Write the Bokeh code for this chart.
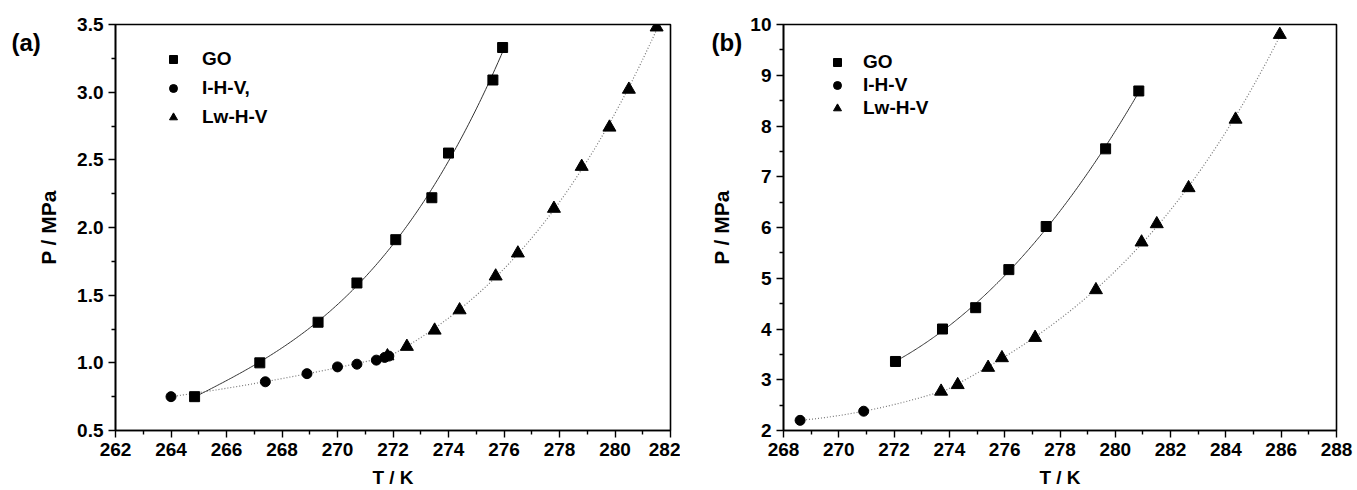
import numpy as np
from bokeh.plotting import figure
from bokeh.layouts import row
from bokeh.models import FixedTicker, Legend, LegendItem, Range1d, PrintfTickFormatter
from bokeh.embed import file_html
from bokeh.resources import INLINE

# ---------------- data: panel (a) ----------------
a_go_T = [264.85, 267.2, 269.3, 270.7, 272.1, 273.4, 274.0, 275.6, 275.95]
a_go_P = [0.75, 1.00, 1.30, 1.59, 1.91, 2.22, 2.55, 3.09, 3.33]
a_ihv_T = [264.0, 267.4, 268.9, 270.0, 270.7, 271.4, 271.7, 271.85]
a_ihv_P = [0.75, 0.86, 0.92, 0.97, 0.99, 1.02, 1.04, 1.05]
a_lw_T = [271.8, 272.5, 273.5, 274.4, 275.7, 276.5, 277.8, 278.8, 279.8, 280.5, 281.5]
a_lw_P = [1.05, 1.12, 1.24, 1.39, 1.64, 1.81, 2.14, 2.45, 2.74, 3.02, 3.48]

# ---------------- data: panel (b) ----------------
b_go_T = [272.05, 273.75, 274.95, 276.15, 277.5, 279.65, 280.85]
b_go_P = [3.36, 4.00, 4.42, 5.17, 6.02, 7.55, 8.69]
b_ihv_T = [268.6, 270.9]
b_ihv_P = [2.20, 2.38]
b_lw_T = [273.7, 274.3, 275.4, 275.9, 277.1, 279.3, 280.95, 281.5, 282.65, 284.35, 285.95]
b_lw_P = [2.77, 2.90, 3.24, 3.43, 3.83, 4.77, 5.71, 6.07, 6.78, 8.13, 9.80]

labels_a = ["GO", "I-H-V,", "Lw-H-V"]
labels_b = ["GO", "I-H-V", "Lw-H-V"]

FONT = "Liberation Sans"


def fit_curve(T, P, deg, n=200):
    c = np.polyfit(T, P, deg)
    t = np.linspace(min(T), max(T), n)
    return t, np.polyval(c, t)


def make_panel(tag, go, ihv, lw, labels, xr, yr, xmaj, xmin, ymaj, ymin, yfmt,
               width, bl, br, leg_x, leg_y, leg_sp, leg_so, tag_off):
    p = figure(width=width, height=490, output_backend="svg", toolbar_location=None,
               x_range=Range1d(*xr), y_range=Range1d(*yr),
               min_border_left=bl, min_border_right=br, min_border_top=24, min_border_bottom=60)
    p.grid.visible = False
    p.outline_line_color = "black"
    p.outline_line_width = 1.6
    p.background_fill_color = "white"
    p.border_fill_color = "white"

    # fitted curves
    t, v = fit_curve(go[0], go[1], 3)
    p.line(t, v, line_color="#333333", line_width=1)
    it = list(ihv[0]) + [lw[0][0]]
    ip = list(ihv[1]) + [lw[1][0]]
    t, v = fit_curve(it, ip, 2)
    p.line(t, v, line_color="#777777", line_width=1.2, line_dash="1 2")
    t, v = fit_curve(lw[0], lw[1], 3)
    p.line(t, v, line_color="#777777", line_width=1.2, line_dash="1 2")

    r1 = p.scatter(go[0], go[1], marker="square", size=10, color="black")
    r2 = p.scatter(ihv[0], ihv[1], marker="circle", size=10, color="black")
    r3 = p.scatter(lw[0], lw[1], marker="triangle", size=13, color="black")

    for ax in (p.xaxis[0], p.yaxis[0]):
        ax.axis_line_width = 1.6
        ax.major_tick_line_width = 1.4
        ax.minor_tick_line_width = 1.4
        ax.major_tick_in = 0
        ax.major_tick_out = 7
        ax.minor_tick_in = 0
        ax.minor_tick_out = 4
        ax.major_label_text_font = FONT
        ax.major_label_text_font_style = "bold"
        ax.major_label_text_font_size = "19px"
        ax.major_label_text_color = "black"
        ax.axis_label_text_font = FONT
        ax.axis_label_text_font_style = "bold"
        ax.axis_label_text_color = "black"
    p.xaxis[0].ticker = FixedTicker(ticks=xmaj, minor_ticks=xmin)
    p.yaxis[0].ticker = FixedTicker(ticks=ymaj, minor_ticks=ymin)
    p.yaxis[0].formatter = PrintfTickFormatter(format=yfmt)
    p.xaxis[0].axis_label = "T / K"
    p.yaxis[0].axis_label = "P / MPa"
    p.xaxis[0].axis_label_text_font_size = "19px"
    p.yaxis[0].axis_label_text_font_size = "21px"
    p.xaxis[0].axis_label_standoff = 8
    p.yaxis[0].axis_label_standoff = 14
    p.xaxis[0].major_label_standoff = 5
    p.yaxis[0].major_label_standoff = 5

    leg = Legend(items=[LegendItem(label=labels[0], renderers=[r1]),
                        LegendItem(label=labels[1], renderers=[r2]),
                        LegendItem(label=labels[2], renderers=[r3])],
                 location=(leg_x, leg_y), orientation="vertical",
                 glyph_width=20, glyph_height=20, label_height=20,
                 spacing=leg_sp, padding=0, margin=0, label_standoff=leg_so,
                 border_line_color=None, background_fill_alpha=0,
                 label_text_font=FONT, label_text_font_style="bold",
                 label_text_font_size="19px", label_text_color="black")
    p.add_layout(leg, "center")

    # panel tag "(a)" / "(b)" drawn through the plot title
    p.title.text = tag
    p.title.align = "left"
    p.title.offset = tag_off
    p.title.standoff = -62
    p.title.vertical_align = "bottom"
    p.title.text_font = FONT
    p.title.text_font_style = "bold"
    p.title.text_font_size = "24px"
    p.title.text_color = "black"
    return p


xa_maj = [262, 264, 266, 268, 270, 272, 274, 276, 278, 280, 282]
xa_min = [263, 265, 267, 269, 271, 273, 275, 277, 279, 281]
ya_maj = [0.5, 1.0, 1.5, 2.0, 2.5, 3.0, 3.5]
ya_min = [0.75, 1.25, 1.75, 2.25, 2.75, 3.25]
xb_maj = [268, 270, 272, 274, 276, 278, 280, 282, 284, 286, 288]
xb_min = [269, 271, 273, 275, 277, 279, 281, 283, 285, 287]
yb_maj = [2, 3, 4, 5, 6, 7, 8, 9, 10]
yb_min = [2.5, 3.5, 4.5, 5.5, 6.5, 7.5, 8.5, 9.5]

pa = make_panel("(a)", (a_go_T, a_go_P), (a_ihv_T, a_ihv_P), (a_lw_T, a_lw_P), labels_a,
                (262, 282), (0.5, 3.5), xa_maj, xa_min, ya_maj, ya_min, "%.1f",
                width=680, bl=115, br=10, leg_x=48, leg_y=302, leg_sp=7, leg_so=19,
                tag_off=-104)
pb = make_panel("(b)", (b_go_T, b_go_P), (b_ihv_T, b_ihv_P), (b_lw_T, b_lw_P), labels_b,
                (268, 288), (2, 10), xb_maj, xb_min, yb_maj, yb_min, "%d",
                width=677, bl=103, br=21, leg_x=44, leg_y=311, leg_sp=1, leg_so=16,
                tag_off=-72)

layout = row(pa, pb, spacing=0)
open("out.html", "w").write(file_html(layout, INLINE))
